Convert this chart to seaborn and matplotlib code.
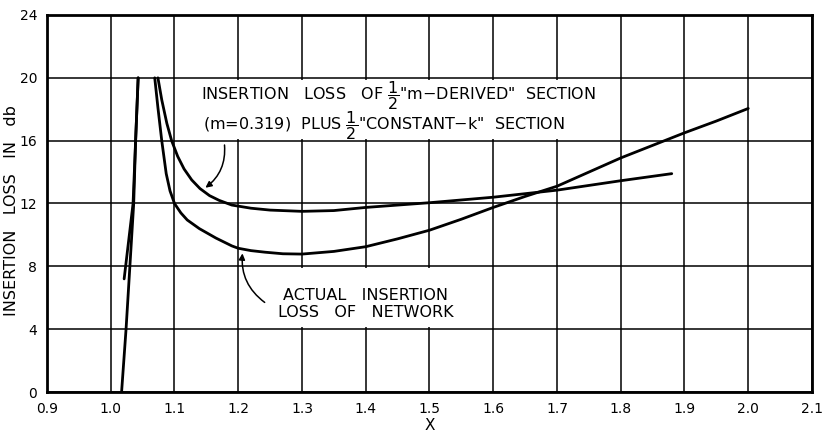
import numpy as np
import pandas as pd
import matplotlib
matplotlib.use("Agg")
import matplotlib.pyplot as plt
from matplotlib.patches import Rectangle
import seaborn as sns

# ---- data ----
x_ticks = [0.9, 1.0, 1.1, 1.2, 1.3, 1.4, 1.5, 1.6, 1.7, 1.8, 1.9, 2.0, 2.1]
x_tick_labels = ["0.9", "1.0", "1.1", "1.2", "1.3", "1.4", "1.5", "1.6",
                 "1.7", "1.8", "1.9", "2.0", "2.1"]
y_ticks = [0, 4, 8, 12, 16, 20, 24]
y_tick_labels = ["0", "4", "8", "12", "16", "20", "24"]

# actual insertion loss of network
actual_rise_x = [1.017, 1.024, 1.030, 1.036, 1.039, 1.043]
actual_rise_y = [0, 4, 8, 12, 16, 20]
actual_fall_x = [1.069, 1.074, 1.080, 1.087, 1.093, 1.100, 1.110, 1.120, 1.139,
                 1.165, 1.190, 1.200, 1.220, 1.242, 1.270, 1.300, 1.350, 1.400,
                 1.450, 1.500, 1.550, 1.600, 1.650, 1.700, 1.750, 1.800, 1.850,
                 1.900, 1.950, 2.000]
actual_fall_y = [20, 18.1, 16, 13.9, 12.8, 12.0, 11.4, 10.95, 10.4,
                 9.8, 9.3, 9.15, 9.0, 8.9, 8.8, 8.78, 8.95, 9.25,
                 9.75, 10.3, 11.0, 11.75, 12.45, 13.1, 14.0, 14.9, 15.7,
                 16.5, 17.25, 18.05]

# 1/2 m-derived (m=0.319) plus 1/2 constant-k section
mder_rise_x = [1.021, 1.028, 1.035, 1.039, 1.043]
mder_rise_y = [7.2, 9.6, 12, 16, 20]
mder_fall_x = [1.074, 1.080, 1.088, 1.0955, 1.105, 1.115, 1.127, 1.140, 1.155,
               1.170, 1.190, 1.220, 1.250, 1.300, 1.350, 1.400, 1.450, 1.500,
               1.600, 1.700, 1.800, 1.880]
mder_fall_y = [20, 18.6, 17.1, 16, 15.0, 14.2, 13.5, 12.95, 12.5,
               12.2, 11.9, 11.7, 11.58, 11.5, 11.55, 11.75, 11.9, 12.05,
               12.4, 12.85, 13.45, 13.9]

label_upper_1 = r'INSERTION   LOSS   OF $\dfrac{1}{2}$"m$-$DERIVED"  SECTION'
label_upper_2 = r'(m=0.319)  PLUS $\dfrac{1}{2}$"CONSTANT$-$k"  SECTION'
label_lower = "ACTUAL   INSERTION\nLOSS   OF   NETWORK"
x_label = "X"
y_label = "INSERTION   LOSS   IN   db"

segments = [
    ("actual_rise", actual_rise_x, actual_rise_y),
    ("actual_fall", actual_fall_x, actual_fall_y),
    ("mder_rise", mder_rise_x, mder_rise_y),
    ("mder_fall", mder_fall_x, mder_fall_y),
]
df = pd.concat([pd.DataFrame({"x": xs, "y": ys, "seg": name})
                for name, xs, ys in segments], ignore_index=True)

# ---- drawing ----
sns.set_style("white")
plt.rcParams["font.family"] = ["DejaVu Sans"]
plt.rcParams["mathtext.fontset"] = "dejavusans"
plt.rcParams["text.color"] = "black"
plt.rcParams["axes.labelcolor"] = "black"

fig = plt.figure(figsize=(8.22, 4.38), dpi=100)
ax = fig.add_axes([47 / 822, 1 - 392 / 438, (812 - 47) / 822, (392 - 15) / 438])

sns.lineplot(data=df, x="x", y="y", units="seg", estimator=None, sort=False,
             color="black", linewidth=2.0, ax=ax, zorder=3)

ax.set_xlim(0.9, 2.1)
ax.set_ylim(0, 24)
ax.set_xticks(x_ticks)
ax.set_xticklabels(x_tick_labels)
ax.set_yticks(y_ticks)
ax.set_yticklabels(y_tick_labels)
ax.set_axisbelow(True)
ax.grid(True, color="black", linewidth=1.1)
ax.tick_params(length=0, labelsize=10, pad=7, colors="black")
for sp in ax.spines.values():
    sp.set_color("black")
    sp.set_linewidth(2.0)

ax.set_xlabel(x_label, fontsize=11, labelpad=2)
ax.set_ylabel(y_label, fontsize=11.5)
ax.yaxis.set_label_coords(-0.036, 0.48)

# white label boxes hiding grid lines
ax.add_patch(Rectangle((1.135, 16.12), 1.793 - 1.135, 3.76, facecolor="white",
                       edgecolor="none", zorder=1))
ax.add_patch(Rectangle((1.206, 4.12), 1.594 - 1.206, 3.76, facecolor="white",
                       edgecolor="none", zorder=1))

ax.text(1.142, 18.85, label_upper_1, fontsize=11.5, ha="left", va="center", zorder=4)
ax.text(1.145, 16.95, label_upper_2, fontsize=11.5, ha="left", va="center", zorder=4)
ax.text(1.40, 5.6, label_lower, fontsize=11.5, ha="center", va="center",
        linespacing=1.15, zorder=4)

ax.annotate("", xy=(1.145, 12.9), xytext=(1.178, 15.9),
            arrowprops=dict(arrowstyle="-|>", color="black", lw=1.1,
                            connectionstyle="arc3,rad=-0.3",
                            mutation_scale=9), zorder=4)
ax.annotate("", xy=(1.207, 9.0), xytext=(1.245, 5.6),
            arrowprops=dict(arrowstyle="-|>", color="black", lw=1.1,
                            connectionstyle="arc3,rad=-0.3",
                            mutation_scale=9), zorder=4)

fig.savefig("out.png", dpi=100)
